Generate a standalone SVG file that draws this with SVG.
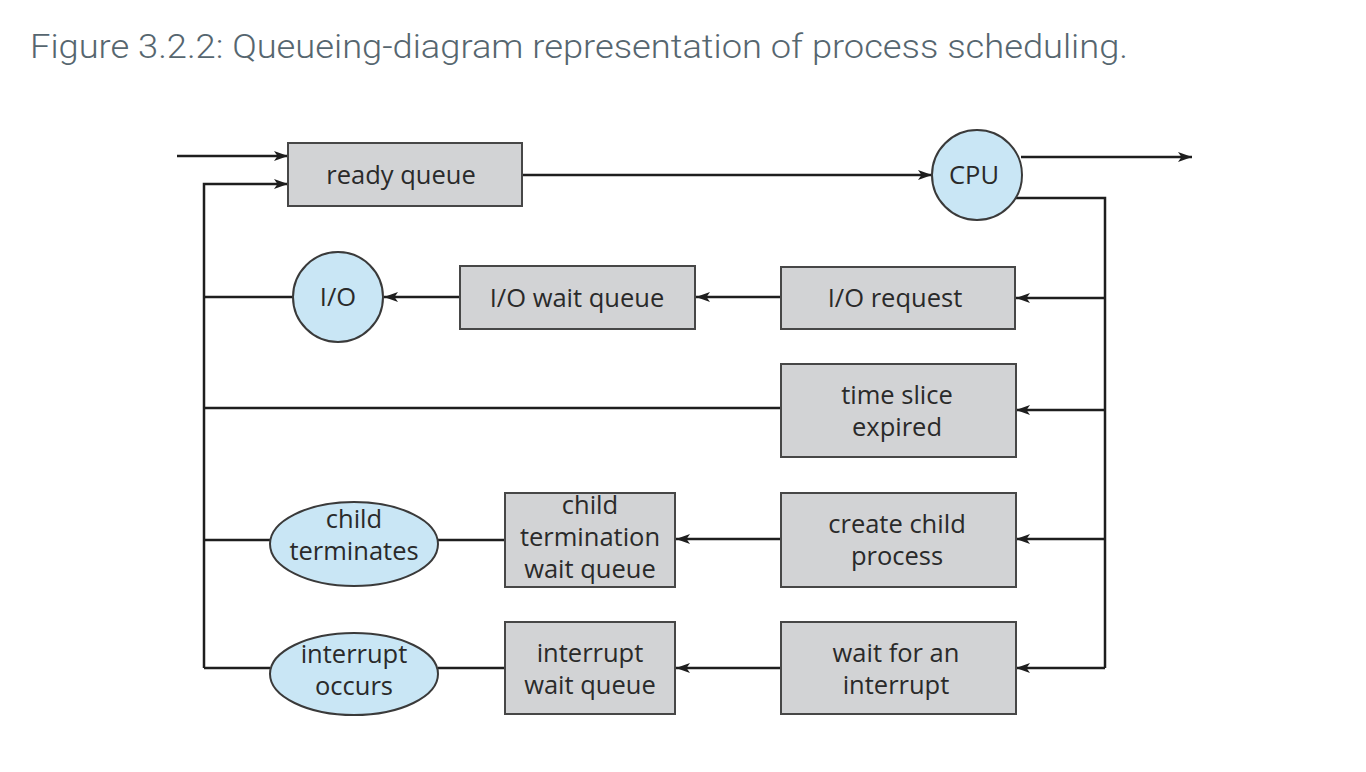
<svg xmlns="http://www.w3.org/2000/svg" width="1366" height="772" viewBox="0 0 1366 772">
<defs>
<marker id="ah" viewBox="0 0 14 10" refX="14" refY="5" markerWidth="14" markerHeight="10" markerUnits="userSpaceOnUse" orient="auto">
<path d="M0,0 L14,5 L0,10 L3.5,5 Z" fill="#1e1e1e"/>
</marker>
</defs>
<style>
.box{fill:#d2d3d5;stroke:#474747;stroke-width:2}
.circ{fill:#c9e6f5;stroke:#3a3a3a;stroke-width:2}
.lbl{font-family:"Open Sans","Noto Sans",sans-serif;font-size:25.5px;fill:#2a2a2a;text-anchor:middle}
.ln{fill:none;stroke:#1e1e1e;stroke-width:2.5}
.title{font-family:Roboto,"Liberation Sans",sans-serif;font-weight:300;font-size:34px;fill:#56666f}
</style>
<rect width="1366" height="772" fill="#fff"/>
<text class="title" x="30" y="58" textLength="1098" lengthAdjust="spacingAndGlyphs">Figure 3.2.2: Queueing-diagram representation of process scheduling.</text>

<g id="connectors">
<line class="ln" x1="177" y1="156" x2="288" y2="156" marker-end="url(#ah)"/>
<polyline class="ln" points="204,668 204,184 288,184" marker-end="url(#ah)"/>
<line class="ln" x1="522" y1="175" x2="932" y2="175" marker-end="url(#ah)"/>
<line class="ln" x1="1021" y1="157" x2="1192" y2="157" marker-end="url(#ah)"/>
<polyline class="ln" points="1016,198 1105,198 1105,668"/>
<line class="ln" x1="1105" y1="298" x2="1016" y2="298" marker-end="url(#ah)"/>
<line class="ln" x1="1105" y1="410" x2="1016" y2="410" marker-end="url(#ah)"/>
<line class="ln" x1="1105" y1="539" x2="1016" y2="539" marker-end="url(#ah)"/>
<line class="ln" x1="1105" y1="668" x2="1016" y2="668" marker-end="url(#ah)"/>
<line class="ln" x1="781" y1="297" x2="696" y2="297" marker-end="url(#ah)"/>
<line class="ln" x1="460" y1="297" x2="384" y2="297" marker-end="url(#ah)"/>
<line class="ln" x1="293" y1="297" x2="204" y2="297"/>
<line class="ln" x1="781" y1="408" x2="204" y2="408"/>
<line class="ln" x1="781" y1="539" x2="676" y2="539" marker-end="url(#ah)"/>
<line class="ln" x1="505" y1="540" x2="438" y2="540"/>
<line class="ln" x1="270" y1="540" x2="204" y2="540"/>
<line class="ln" x1="781" y1="668" x2="676" y2="668" marker-end="url(#ah)"/>
<line class="ln" x1="505" y1="668" x2="438" y2="668"/>
<line class="ln" x1="270" y1="668" x2="204" y2="668"/>
</g>

<g id="ready-queue">
<rect class="box" x="288" y="143" width="234" height="63"/>
<text class="lbl" x="401" y="184">ready queue</text>
</g>
<g id="cpu">
<circle class="circ" cx="977" cy="175" r="45"/>
<text class="lbl" x="974" y="184">CPU</text>
</g>
<g id="io-request">
<rect class="box" x="781" y="267" width="234" height="62"/>
<text class="lbl" x="895" y="307">I/O request</text>
</g>
<g id="io-wait-queue">
<rect class="box" x="460" y="266" width="235" height="63"/>
<text class="lbl" x="577" y="307">I/O wait queue</text>
</g>
<g id="io">
<circle class="circ" cx="338" cy="297" r="45"/>
<text class="lbl" x="338" y="306">I/O</text>
</g>
<g id="time-slice">
<rect class="box" x="781" y="364" width="235" height="93"/>
<text class="lbl" x="897" y="404">time slice</text>
<text class="lbl" x="897" y="436">expired</text>
</g>
<g id="create-child">
<rect class="box" x="781" y="493" width="235" height="94"/>
<text class="lbl" x="897" y="533">create child</text>
<text class="lbl" x="897" y="565">process</text>
</g>
<g id="wait-interrupt">
<rect class="box" x="781" y="622" width="235" height="92"/>
<text class="lbl" x="896" y="662">wait for an</text>
<text class="lbl" x="896" y="694">interrupt</text>
</g>
<g id="child-termination-wait-queue">
<rect class="box" x="505" y="493" width="170" height="94"/>
<text class="lbl" x="590" y="514">child</text>
<text class="lbl" x="590" y="546">termination</text>
<text class="lbl" x="590" y="578">wait queue</text>
</g>
<g id="interrupt-wait-queue">
<rect class="box" x="505" y="622" width="170" height="92"/>
<text class="lbl" x="590" y="662">interrupt</text>
<text class="lbl" x="590" y="694">wait queue</text>
</g>
<g id="child-terminates">
<ellipse class="circ" cx="354" cy="544" rx="84" ry="42"/>
<text class="lbl" x="354" y="528">child</text>
<text class="lbl" x="354" y="560">terminates</text>
</g>
<g id="interrupt-occurs">
<ellipse class="circ" cx="354" cy="674" rx="84" ry="41"/>
<text class="lbl" x="354" y="663">interrupt</text>
<text class="lbl" x="354" y="695">occurs</text>
</g>
</svg>
